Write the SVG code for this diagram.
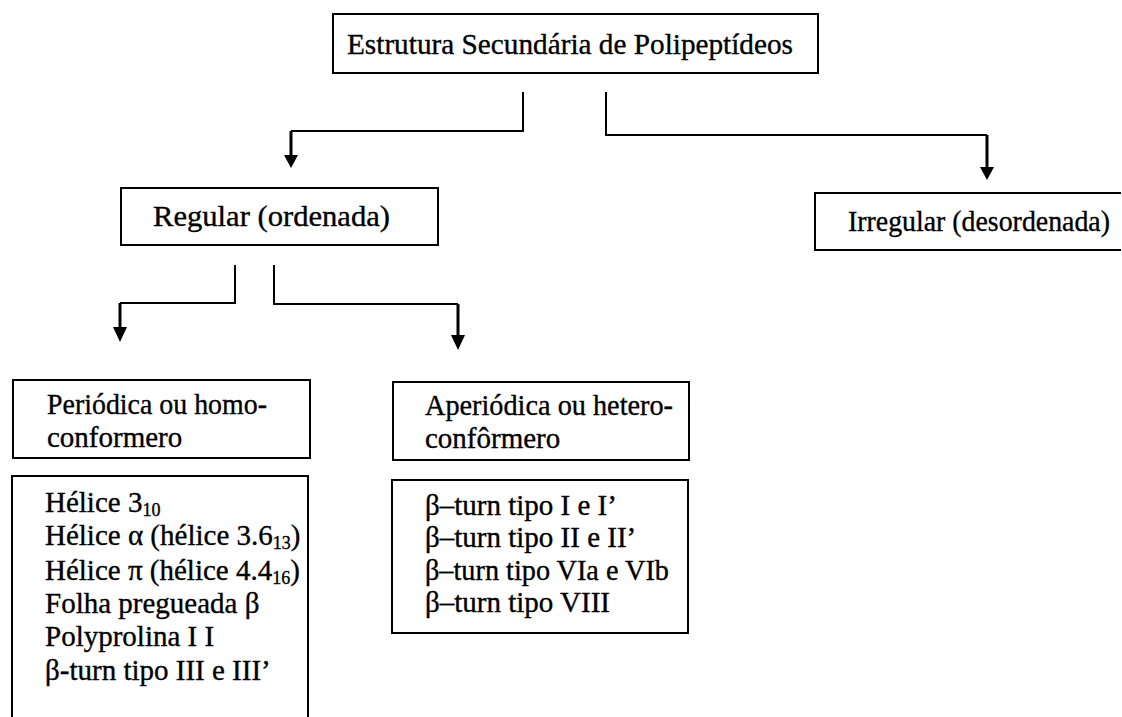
<svg xmlns="http://www.w3.org/2000/svg" width="1122" height="717" viewBox="0 0 1122 717">
<style>
.box{fill:none;stroke:#000;stroke-width:2}
.t{font-family:"Liberation Serif","Times New Roman",serif;font-size:29px;fill:#000;stroke:#000;stroke-width:0.35}
.sub{font-size:18px}
.c{fill:none;stroke:#000;stroke-width:2}
.v{fill:none;stroke:#000;stroke-width:3}
.ah{fill:#000}
</style>
<rect width="1122" height="717" fill="#fff"/>
<g id="n-root">
<rect class="box" x="333" y="14" width="485" height="59"/>
<text class="t" x="347" y="54" textLength="446" lengthAdjust="spacingAndGlyphs">Estrutura Secundária de Polipeptídeos</text>
</g>
<g id="n-regular">
<rect class="box" x="121" y="188" width="317" height="57"/>
<text class="t" x="153" y="226" textLength="237" lengthAdjust="spacingAndGlyphs">Regular (ordenada)</text>
</g>
<g id="n-irregular">
<path class="box" d="M1121,193 H815 V250 H1121"/>
<text class="t" x="848" y="231" textLength="262" lengthAdjust="spacingAndGlyphs">Irregular (desordenada)</text>
</g>
<g id="n-periodica">
<rect class="box" x="13" y="380" width="297" height="78"/>
<text class="t" x="47" y="414" textLength="220" lengthAdjust="spacingAndGlyphs">Periódica ou homo-</text>
<text class="t" x="47" y="447">conformero</text>
</g>
<g id="n-periodica-list">
<rect class="box" x="12" y="476" width="296" height="260"/>
<text class="t" x="45" y="512">Hélice 3<tspan class="sub" dy="4">10</tspan></text>
<text class="t" x="45" y="545">Hélice α (hélice 3.6<tspan class="sub" dy="4">13</tspan><tspan dy="-4">)</tspan></text>
<text class="t" x="45" y="580">Hélice π (hélice 4.4<tspan class="sub" dy="4">16</tspan><tspan dy="-4">)</tspan></text>
<text class="t" x="45" y="613">Folha pregueada β</text>
<text class="t" x="45" y="646">Polyprolina I I</text>
<text class="t" x="45" y="680">β-turn tipo III e III’</text>
</g>
<g id="n-aperiodica">
<rect class="box" x="393" y="382" width="296" height="78"/>
<text class="t" x="425" y="415" textLength="248" lengthAdjust="spacingAndGlyphs">Aperiódica ou hetero-</text>
<text class="t" x="425" y="448">confôrmero</text>
</g>
<g id="n-aperiodica-list">
<rect class="box" x="392" y="480" width="296" height="153"/>
<text class="t" x="425" y="515">β–turn tipo I e I’</text>
<text class="t" x="425" y="547">β–turn tipo II e II’</text>
<text class="t" x="425" y="580" textLength="244" lengthAdjust="spacingAndGlyphs">β–turn tipo VIa e VIb</text>
<text class="t" x="425" y="612">β–turn tipo VIII</text>
</g>
<g id="connectors">
<polyline class="c" points="523,92 523,131 291,131"/>
<line class="v" x1="291" y1="131" x2="291" y2="156"/>
<polygon class="ah" points="284,155 298,155 291,168"/>
<polyline class="c" points="606,92 606,135 987,135"/>
<line class="v" x1="987" y1="135" x2="987" y2="168"/>
<polygon class="ah" points="980,167 994,167 987,180"/>
<polyline class="c" points="235,265 235,303 120,303"/>
<line class="v" x1="120" y1="303" x2="120" y2="328"/>
<polygon class="ah" points="113,327 127,327 120,342"/>
<polyline class="c" points="274,265 274,304 458,304"/>
<line class="v" x1="458" y1="304" x2="458" y2="336"/>
<polygon class="ah" points="451,335 465,335 458,350"/>
</g>
</svg>
